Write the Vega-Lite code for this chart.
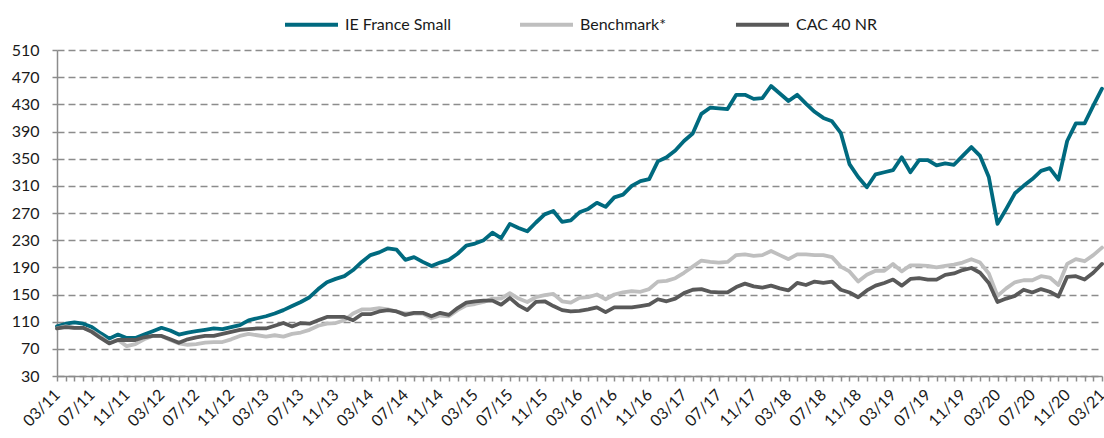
{
  "$schema": "https://vega.github.io/schema/vega-lite/v6.json",
  "autosize": "none",
  "width": 1045,
  "height": 326,
  "padding": {"left": 57, "top": 50, "right": 2, "bottom": 62},
  "background": "white",
  "config": {
    "view": {"stroke": null},
    "font": "Lato",
    "axis": {"labelFont": "Lato", "labelFontSize": 16, "labelColor": "#1a1a1a"},
    "legend": {"labelFont": "Lato", "labelFontSize": 16, "labelColor": "#1a1a1a"}
  },
  "data": {"values": [
    {"m":"03/11","IE France Small":103,"Benchmark*":100,"CAC 40 NR":100},
    {"m":"04/11","IE France Small":107,"Benchmark*":103,"CAC 40 NR":102},
    {"m":"05/11","IE France Small":109,"Benchmark*":101,"CAC 40 NR":101},
    {"m":"06/11","IE France Small":107,"Benchmark*":101,"CAC 40 NR":101},
    {"m":"07/11","IE France Small":102,"Benchmark*":96,"CAC 40 NR":95},
    {"m":"08/11","IE France Small":93,"Benchmark*":88,"CAC 40 NR":86},
    {"m":"09/11","IE France Small":85,"Benchmark*":79,"CAC 40 NR":78},
    {"m":"10/11","IE France Small":91,"Benchmark*":83,"CAC 40 NR":83},
    {"m":"11/11","IE France Small":86,"Benchmark*":74,"CAC 40 NR":83},
    {"m":"12/11","IE France Small":86,"Benchmark*":77,"CAC 40 NR":83},
    {"m":"01/12","IE France Small":91,"Benchmark*":84,"CAC 40 NR":87},
    {"m":"02/12","IE France Small":96,"Benchmark*":89,"CAC 40 NR":89},
    {"m":"03/12","IE France Small":101,"Benchmark*":89,"CAC 40 NR":89},
    {"m":"04/12","IE France Small":97,"Benchmark*":83,"CAC 40 NR":84},
    {"m":"05/12","IE France Small":91,"Benchmark*":78,"CAC 40 NR":79},
    {"m":"06/12","IE France Small":94,"Benchmark*":76,"CAC 40 NR":84},
    {"m":"07/12","IE France Small":96,"Benchmark*":77,"CAC 40 NR":87},
    {"m":"08/12","IE France Small":98,"Benchmark*":79,"CAC 40 NR":89},
    {"m":"09/12","IE France Small":100,"Benchmark*":80,"CAC 40 NR":89},
    {"m":"10/12","IE France Small":99,"Benchmark*":80,"CAC 40 NR":92},
    {"m":"11/12","IE France Small":102,"Benchmark*":84,"CAC 40 NR":95},
    {"m":"12/12","IE France Small":105,"Benchmark*":89,"CAC 40 NR":98},
    {"m":"01/13","IE France Small":112,"Benchmark*":92,"CAC 40 NR":99},
    {"m":"02/13","IE France Small":115,"Benchmark*":90,"CAC 40 NR":100},
    {"m":"03/13","IE France Small":118,"Benchmark*":88,"CAC 40 NR":100},
    {"m":"04/13","IE France Small":122,"Benchmark*":90,"CAC 40 NR":104},
    {"m":"05/13","IE France Small":127,"Benchmark*":88,"CAC 40 NR":108},
    {"m":"06/13","IE France Small":133,"Benchmark*":92,"CAC 40 NR":103},
    {"m":"07/13","IE France Small":139,"Benchmark*":94,"CAC 40 NR":108},
    {"m":"08/13","IE France Small":146,"Benchmark*":98,"CAC 40 NR":107},
    {"m":"09/13","IE France Small":158,"Benchmark*":104,"CAC 40 NR":112},
    {"m":"10/13","IE France Small":168,"Benchmark*":107,"CAC 40 NR":117},
    {"m":"11/13","IE France Small":173,"Benchmark*":108,"CAC 40 NR":117},
    {"m":"12/13","IE France Small":177,"Benchmark*":112,"CAC 40 NR":117},
    {"m":"01/14","IE France Small":186,"Benchmark*":122,"CAC 40 NR":112},
    {"m":"02/14","IE France Small":198,"Benchmark*":128,"CAC 40 NR":121},
    {"m":"03/14","IE France Small":208,"Benchmark*":128,"CAC 40 NR":121},
    {"m":"04/14","IE France Small":212,"Benchmark*":130,"CAC 40 NR":125},
    {"m":"05/14","IE France Small":218,"Benchmark*":128,"CAC 40 NR":127},
    {"m":"06/14","IE France Small":216,"Benchmark*":125,"CAC 40 NR":125},
    {"m":"07/14","IE France Small":201,"Benchmark*":122,"CAC 40 NR":120},
    {"m":"08/14","IE France Small":205,"Benchmark*":122,"CAC 40 NR":123},
    {"m":"09/14","IE France Small":198,"Benchmark*":122,"CAC 40 NR":123},
    {"m":"10/14","IE France Small":192,"Benchmark*":115,"CAC 40 NR":118},
    {"m":"11/14","IE France Small":197,"Benchmark*":119,"CAC 40 NR":123},
    {"m":"12/14","IE France Small":201,"Benchmark*":118,"CAC 40 NR":120},
    {"m":"01/15","IE France Small":210,"Benchmark*":127,"CAC 40 NR":130},
    {"m":"02/15","IE France Small":222,"Benchmark*":134,"CAC 40 NR":138},
    {"m":"03/15","IE France Small":225,"Benchmark*":136,"CAC 40 NR":140},
    {"m":"04/15","IE France Small":230,"Benchmark*":139,"CAC 40 NR":141},
    {"m":"05/15","IE France Small":241,"Benchmark*":144,"CAC 40 NR":141},
    {"m":"06/15","IE France Small":233,"Benchmark*":144,"CAC 40 NR":135},
    {"m":"07/15","IE France Small":254,"Benchmark*":152,"CAC 40 NR":145},
    {"m":"08/15","IE France Small":248,"Benchmark*":144,"CAC 40 NR":134},
    {"m":"09/15","IE France Small":243,"Benchmark*":139,"CAC 40 NR":127},
    {"m":"10/15","IE France Small":256,"Benchmark*":146,"CAC 40 NR":139},
    {"m":"11/15","IE France Small":268,"Benchmark*":149,"CAC 40 NR":140},
    {"m":"12/15","IE France Small":273,"Benchmark*":151,"CAC 40 NR":133},
    {"m":"01/16","IE France Small":257,"Benchmark*":140,"CAC 40 NR":127},
    {"m":"02/16","IE France Small":259,"Benchmark*":138,"CAC 40 NR":125},
    {"m":"03/16","IE France Small":271,"Benchmark*":145,"CAC 40 NR":126},
    {"m":"04/16","IE France Small":276,"Benchmark*":146,"CAC 40 NR":128},
    {"m":"05/16","IE France Small":285,"Benchmark*":150,"CAC 40 NR":131},
    {"m":"06/16","IE France Small":279,"Benchmark*":143,"CAC 40 NR":124},
    {"m":"07/16","IE France Small":293,"Benchmark*":150,"CAC 40 NR":131},
    {"m":"08/16","IE France Small":297,"Benchmark*":153,"CAC 40 NR":131},
    {"m":"09/16","IE France Small":310,"Benchmark*":155,"CAC 40 NR":131},
    {"m":"10/16","IE France Small":317,"Benchmark*":154,"CAC 40 NR":133},
    {"m":"11/16","IE France Small":320,"Benchmark*":158,"CAC 40 NR":135},
    {"m":"12/16","IE France Small":346,"Benchmark*":169,"CAC 40 NR":143},
    {"m":"01/17","IE France Small":352,"Benchmark*":170,"CAC 40 NR":140},
    {"m":"02/17","IE France Small":362,"Benchmark*":174,"CAC 40 NR":144},
    {"m":"03/17","IE France Small":376,"Benchmark*":182,"CAC 40 NR":152},
    {"m":"04/17","IE France Small":387,"Benchmark*":191,"CAC 40 NR":157},
    {"m":"05/17","IE France Small":416,"Benchmark*":200,"CAC 40 NR":158},
    {"m":"06/17","IE France Small":425,"Benchmark*":198,"CAC 40 NR":154},
    {"m":"07/17","IE France Small":424,"Benchmark*":197,"CAC 40 NR":153},
    {"m":"08/17","IE France Small":423,"Benchmark*":198,"CAC 40 NR":153},
    {"m":"09/17","IE France Small":444,"Benchmark*":208,"CAC 40 NR":161},
    {"m":"10/17","IE France Small":444,"Benchmark*":209,"CAC 40 NR":166},
    {"m":"11/17","IE France Small":438,"Benchmark*":207,"CAC 40 NR":162},
    {"m":"12/17","IE France Small":439,"Benchmark*":208,"CAC 40 NR":160},
    {"m":"01/18","IE France Small":457,"Benchmark*":214,"CAC 40 NR":163},
    {"m":"02/18","IE France Small":446,"Benchmark*":208,"CAC 40 NR":159},
    {"m":"03/18","IE France Small":435,"Benchmark*":202,"CAC 40 NR":156},
    {"m":"04/18","IE France Small":444,"Benchmark*":209,"CAC 40 NR":167},
    {"m":"05/18","IE France Small":431,"Benchmark*":209,"CAC 40 NR":164},
    {"m":"06/18","IE France Small":419,"Benchmark*":208,"CAC 40 NR":169},
    {"m":"07/18","IE France Small":410,"Benchmark*":208,"CAC 40 NR":167},
    {"m":"08/18","IE France Small":405,"Benchmark*":205,"CAC 40 NR":169},
    {"m":"09/18","IE France Small":388,"Benchmark*":191,"CAC 40 NR":157},
    {"m":"10/18","IE France Small":342,"Benchmark*":184,"CAC 40 NR":153},
    {"m":"11/18","IE France Small":323,"Benchmark*":169,"CAC 40 NR":146},
    {"m":"12/18","IE France Small":308,"Benchmark*":179,"CAC 40 NR":156},
    {"m":"01/19","IE France Small":327,"Benchmark*":185,"CAC 40 NR":163},
    {"m":"02/19","IE France Small":330,"Benchmark*":185,"CAC 40 NR":167},
    {"m":"03/19","IE France Small":333,"Benchmark*":195,"CAC 40 NR":172},
    {"m":"04/19","IE France Small":352,"Benchmark*":184,"CAC 40 NR":163},
    {"m":"05/19","IE France Small":330,"Benchmark*":193,"CAC 40 NR":173},
    {"m":"06/19","IE France Small":348,"Benchmark*":193,"CAC 40 NR":174},
    {"m":"07/19","IE France Small":348,"Benchmark*":192,"CAC 40 NR":172},
    {"m":"08/19","IE France Small":340,"Benchmark*":190,"CAC 40 NR":172},
    {"m":"09/19","IE France Small":343,"Benchmark*":192,"CAC 40 NR":179},
    {"m":"10/19","IE France Small":341,"Benchmark*":194,"CAC 40 NR":181},
    {"m":"11/19","IE France Small":354,"Benchmark*":197,"CAC 40 NR":186},
    {"m":"12/19","IE France Small":367,"Benchmark*":202,"CAC 40 NR":189},
    {"m":"01/20","IE France Small":354,"Benchmark*":197,"CAC 40 NR":182},
    {"m":"02/20","IE France Small":323,"Benchmark*":181,"CAC 40 NR":167},
    {"m":"03/20","IE France Small":254,"Benchmark*":148,"CAC 40 NR":139},
    {"m":"04/20","IE France Small":276,"Benchmark*":159,"CAC 40 NR":144},
    {"m":"05/20","IE France Small":299,"Benchmark*":168,"CAC 40 NR":148},
    {"m":"06/20","IE France Small":310,"Benchmark*":171,"CAC 40 NR":157},
    {"m":"07/20","IE France Small":320,"Benchmark*":171,"CAC 40 NR":153},
    {"m":"08/20","IE France Small":332,"Benchmark*":177,"CAC 40 NR":158},
    {"m":"09/20","IE France Small":336,"Benchmark*":175,"CAC 40 NR":154},
    {"m":"10/20","IE France Small":319,"Benchmark*":164,"CAC 40 NR":147},
    {"m":"11/20","IE France Small":376,"Benchmark*":195,"CAC 40 NR":176},
    {"m":"12/20","IE France Small":402,"Benchmark*":202,"CAC 40 NR":177},
    {"m":"01/21","IE France Small":402,"Benchmark*":199,"CAC 40 NR":172},
    {"m":"02/21","IE France Small":428,"Benchmark*":208,"CAC 40 NR":182},
    {"m":"03/21","IE France Small":453,"Benchmark*":219,"CAC 40 NR":195}
  ]},
  "transform": [
    {"fold": ["IE France Small", "Benchmark*", "CAC 40 NR"], "as": ["series", "v"]}
  ],
  "mark": {"type": "line", "strokeWidth": 3.8, "strokeJoin": "round", "strokeCap": "round"},
  "encoding": {
    "x": {
      "field": "m", "type": "ordinal", "sort": null,
      "scale": {"type": "point", "padding": 0},
      "axis": {
        "title": null,
        "labelAngle": -45, "labelAlign": "right", "labelBaseline": "middle",
        "labelPadding": 11,
        "labelOverlap": false,
        "labelExpr": "indexof(['03','07','11'], slice(datum.value, 0, 2)) >= 0 ? datum.value : ''",
        "ticks": true, "tickSize": 5, "tickColor": "#8c8c8c", "tickWidth": 1.5,
        "domainColor": "#8c8c8c", "domainWidth": 1.5,
        "grid": false
      }
    },
    "y": {
      "field": "v", "type": "quantitative",
      "scale": {"domain": [30, 510], "nice": false, "zero": false},
      "axis": {
        "title": null,
        "values": [30, 70, 110, 150, 190, 230, 270, 310, 350, 390, 430, 470, 510],
        "grid": true, "gridDash": [7, 4], "gridColor": "#8c8c8c", "gridWidth": 1.5,
        "domainColor": "#8c8c8c", "domainWidth": 1.5,
        "tickSize": 5, "tickColor": "#8c8c8c", "tickWidth": 1.5,
        "labelPadding": 13
      }
    },
    "color": {
      "field": "series", "type": "nominal",
      "scale": {"domain": ["IE France Small", "Benchmark*", "CAC 40 NR"], "range": ["#006A7F", "#BFBFBF", "#595959"]},
      "legend": {
        "title": null, "orient": "none", "direction": "horizontal",
        "legendX": 226, "legendY": -54,
        "symbolType": "stroke", "symbolSize": 2809, "symbolStrokeWidth": 4,
        "labelOffset": 5, "columnPadding": 61
      }
    }
  }
}
